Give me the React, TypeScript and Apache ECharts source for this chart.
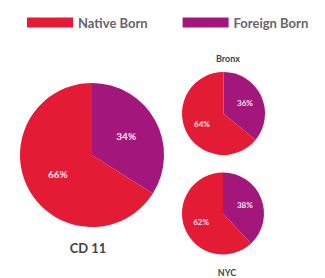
import React, { useEffect, useRef } from "react";
import * as echarts from "echarts";

const categories = ["Native Born", "Foreign Born"];
const cd11Values = [66, 34];
const bronxValues = [64, 36];
const nycValues = [62, 38];
const pieNames = ["CD 11", "Bronx", "NYC"];

const colors = ["#e41b34", "#a3167c"];

export default function App() {
  const ref = useRef<HTMLDivElement>(null);
  useEffect(() => {
    if (!ref.current) return;
    const chart = echarts.init(ref.current, null, { renderer: "svg" });
    const mk = (name: string, vals: number[], center: [number, number], radius: number) => ({
      type: "pie",
      name,
      center,
      radius,
      startAngle: 90,
      clockwise: true,
      label: {
        show: true,
        position: "inside",
        formatter: "{c}%",
        color: "#fbe3ee",
        fontFamily: "Lato",
        fontWeight: "bold",
        fontSize: radius > 60 ? 10 : 8,
      },
      labelLine: { show: false },
      emphasis: { disabled: true },
      // foreign-born slice drawn first so it sits clockwise from 12 o'clock
      data: [1, 0].map((i) => ({
        name: categories[i],
        value: vals[i],
        itemStyle: { color: colors[i], borderWidth: 0 },
      })),
    });
    chart.setOption({
      animation: false,
      color: colors,
      legend: {
        data: categories,
        left: 22,
        top: 11,
        itemWidth: 46,
        itemHeight: 10,
        itemGap: 35,
        icon: "rect",
        textStyle: { color: "#666", fontFamily: "Lato", fontWeight: "bold", fontSize: 13 },
      },
      title: [
        { text: pieNames[0], left: 83, top: 236, textAlign: "center", textStyle: { fontSize: 13, fontWeight: "bold", color: "#444", fontFamily: "Lato" } },
        { text: pieNames[1], left: 223, top: 49, textAlign: "center", textStyle: { fontSize: 9, fontWeight: "bold", color: "#444", fontFamily: "Lato" } },
        { text: pieNames[2], left: 222, top: 263, textAlign: "center", textStyle: { fontSize: 9, fontWeight: "bold", color: "#444", fontFamily: "Lato" } },
      ],
      series: [
        mk(pieNames[0], cd11Values, [92, 155], 72),
        mk(pieNames[1], bronxValues, [223.5, 113.5], 41.5),
        mk(pieNames[2], nycValues, [223, 213.5], 41),
      ],
    });
    return () => chart.dispose();
  }, []);
  return (
    <div
      ref={ref}
      style={{ position: "fixed", left: 0, top: 0, width: 325, height: 278, background: "#fff" }}
    />
  );
}
